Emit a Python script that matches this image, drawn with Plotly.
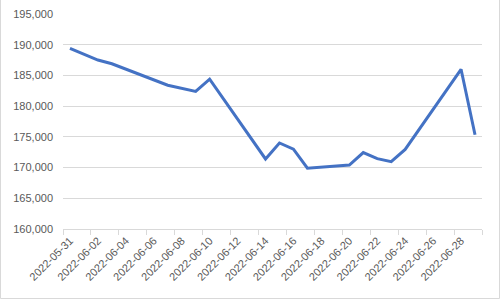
import plotly.graph_objects as go
from datetime import date, timedelta, datetime

# Data (dates with observed values)
dates = ["2022-05-31", "2022-06-02", "2022-06-03", "2022-06-07", "2022-06-09",
         "2022-06-10", "2022-06-14", "2022-06-15", "2022-06-16", "2022-06-17",
         "2022-06-20", "2022-06-21", "2022-06-22", "2022-06-23", "2022-06-24",
         "2022-06-28", "2022-06-29"]
values = [189400, 187500, 186900, 183400, 182400,
          184400, 171400, 174000, 173000, 169900,
          170400, 172450, 171450, 170950, 172950,
          186000, 175350]

tick_labels = ["2022-05-31", "2022-06-02", "2022-06-04", "2022-06-06", "2022-06-08",
               "2022-06-10", "2022-06-12", "2022-06-14", "2022-06-16", "2022-06-18",
               "2022-06-20", "2022-06-22", "2022-06-24", "2022-06-26", "2022-06-28"]
y_ticks = [160000, 165000, 170000, 175000, 180000, 185000, 190000, 195000]

# Day-slot boundaries (Excel date axis: ticks between days)
start = datetime(2022, 5, 30, 12)
boundaries = [(start + timedelta(days=2 * i)).strftime("%Y-%m-%d %H:%M") for i in range(16)]

GRID = "#d9d9d9"
TXT = "#595959"
FONT = "Liberation Sans, Arial, sans-serif"

fig = go.Figure()
fig.add_trace(go.Scatter(
    x=dates, y=values, mode="lines",
    line=dict(color="#4472C4", width=3),
    hoverinfo="skip", showlegend=False,
))

fig.update_layout(
    width=500, height=300,
    margin=dict(l=63, r=18, t=14, b=71, autoexpand=False),
    paper_bgcolor="white", plot_bgcolor="white",
    font=dict(family=FONT, size=11, color=TXT),
    xaxis=dict(
        type="date",
        range=[boundaries[0], boundaries[-1]],
        tickmode="array", tickvals=tick_labels, ticktext=tick_labels,
        tickangle=-45, ticks="", showgrid=False,
        showline=True, linecolor=GRID, linewidth=1,
        minor=dict(tickmode="array", tickvals=boundaries, ticks="outside",
                   ticklen=5, tickcolor=GRID, tickwidth=1, showgrid=False),
        tickfont=dict(family=FONT, size=11, color=TXT),
        automargin=False, fixedrange=True,
    ),
    yaxis=dict(
        range=[160000, 195000],
        tickmode="array", tickvals=y_ticks,
        ticktext=[f"{v:,}" for v in y_ticks],
        ticks="", showgrid=True, gridcolor=GRID, gridwidth=1,
        zeroline=False, showline=False,
        ticklabelstandoff=9,
        tickfont=dict(family=FONT, size=11, color=TXT),
        automargin=False, fixedrange=True,
    ),
    shapes=[
        dict(type="rect", xref="paper", yref="paper",
             x0=-0.1492, x1=1.0418, y0=-0.3233, y1=1.2,
             line=dict(color=GRID, width=1), fillcolor="rgba(0,0,0,0)", layer="below"),
    ],
)

fig.write_html("out.html")
